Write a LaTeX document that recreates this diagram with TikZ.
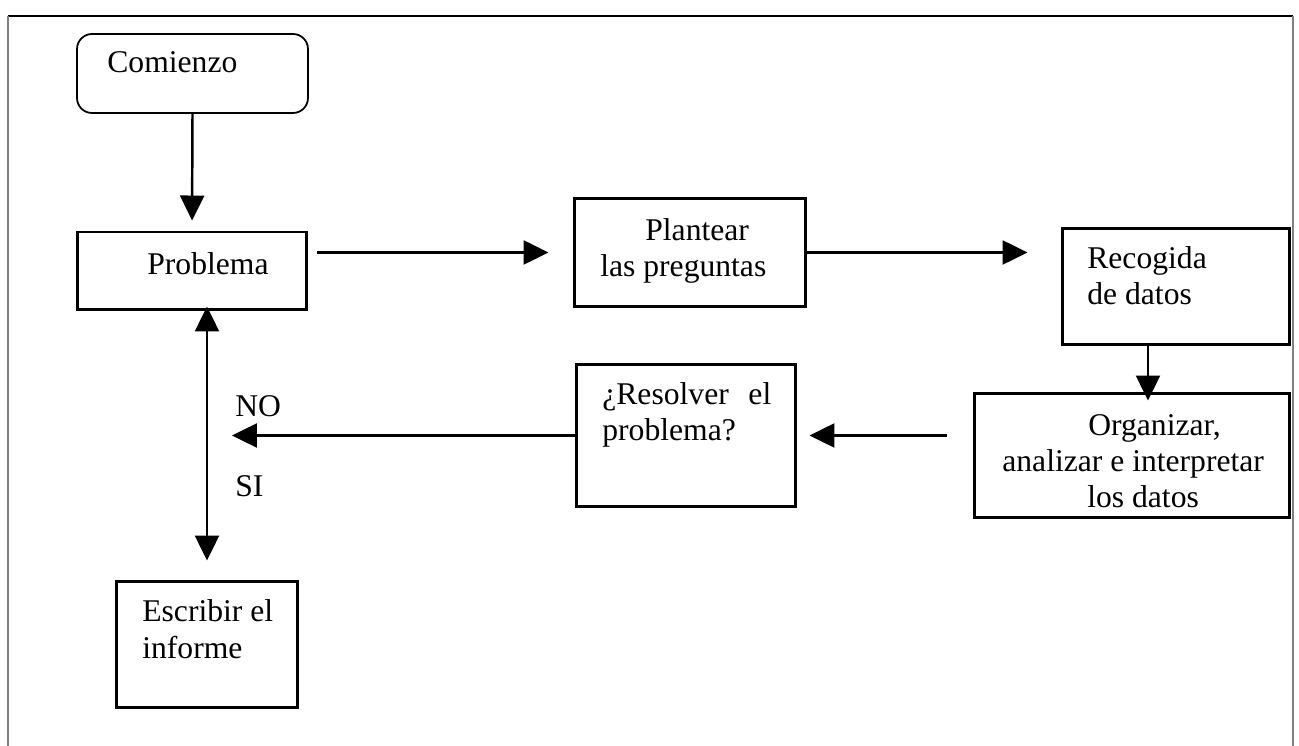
\documentclass[tikz,border=0pt]{standalone}
\usepackage{fontspec}
\setmainfont{Liberation Serif}
\usetikzlibrary{arrows.meta, calc}

\begin{document}
\begin{tikzpicture}[x=0.02cm, y=-0.02cm,
    box/.style = {draw, line width=1.7pt, inner sep=0pt},
    startbox/.style = {draw, line width=1pt, rounded corners=0.3cm, inner sep=0pt},
    txt/.style = {inner sep=0pt, align=left, anchor=base west,
                  font=\fontsize{18}{20.5}\selectfont},
    arr/.style = {line width=1.4pt, -{Triangle[length=0.5cm, width=0.48cm]}}]
    \useasboundingbox (0,0) rectangle (1299,746);
    \draw [line width=1.4pt] (8,16) -- (1293,16);
    \draw [gray, line width=0.7pt] (8,746) -- (8,16) (1293,16) -- (1293,746);

    \node [startbox, minimum width=4.62cm, minimum height=1.58cm] (comienzo) at (192.5,73.5) {};
    \node [box, minimum width=4.6cm, minimum height=1.56cm] (problema) at (192,271) {};
    \node [box, minimum width=4.64cm, minimum height=2.18cm] (plantear) at (690,252.5) {};
    \node [box, minimum width=4.56cm, minimum height=2.34cm] (recogida) at (1176,286.5) {};
    \node [box, minimum width=6.32cm, minimum height=2.5cm] (organizar) at (1132,455.5) {};
    \node [box, minimum width=4.4cm, minimum height=2.86cm] (resolver) at (686,435.5) {};
    \node [box, minimum width=3.64cm, minimum height=2.54cm] (escribir) at (207,644.5) {};

%    \tikzstyle{every node} = [draw]
    \node [txt] (t-comienzo) at (107,73) {Comienzo};
    \node [txt] (t-problema) at (147,275) {Problema};
    \node [txt] (t-plantear) at (600,277) {\hspace*{0.9cm}Plantear\\las preguntas};
    \node [txt] (t-recogida) at (1087,305) {Recogida\\de datos};
    \node [txt] (t-organizar) at (1002,508) {\hspace*{1.72cm}Organizar,\\analizar e interpretar\\\hspace*{1.7cm}los datos};
    \node [txt] (t-resolver) at (602,441) {\makebox[3.38cm][s]{¿Resolver el}\\problema?};
    \node [txt] (t-escribir) at (142,658) {Escribir el\\informe};
    \node [txt] (no) at (235,417) {NO};
    \node [txt] (si) at (235,497) {SI};

    \coordinate (rd) at ($(recogida.south)+(-28,0)$);
    \draw [arr, shorten >=0.2cm] (comienzo.south) -- (problema.north);
    \draw [arr, shorten <=0.18cm, shorten >=0.48cm] (problema.east |- plantear.west) -- (plantear.west);
    \draw [arr, shorten >=0.66cm] (plantear.east) -- (plantear.east -| recogida.west);
    \draw [arr, shorten >=-0.18cm] (rd) -- (rd |- organizar.north);
    \draw [arr, shorten <=0.52cm, shorten >=0.24cm] (organizar.west |- resolver.east) -- (resolver.east);
    \draw [arr, shorten >=0.5cm] (resolver.west) -- (resolver.west -| escribir.north);
    \draw [arr, {Triangle[length=0.5cm, width=0.48cm]}-{Triangle[length=0.5cm, width=0.48cm]},
           shorten <=-0.1cm, shorten >=0.38cm] (problema.south -| escribir.north) -- (escribir.north);
\end{tikzpicture}
\end{document}
